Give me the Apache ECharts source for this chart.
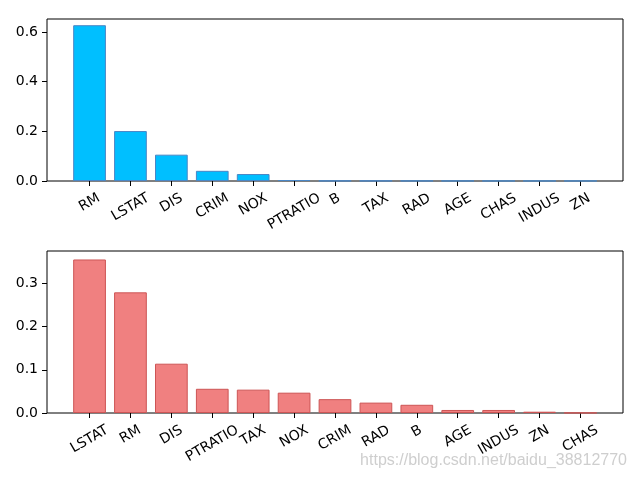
<!DOCTYPE html>
<html><head><meta charset="utf-8">
<script src="https://cdn.jsdelivr.net/npm/echarts@6/dist/echarts.min.js"></script>
<style>html,body{margin:0;padding:0;background:#fff}#c{width:640px;height:480px}</style>
</head><body><div id="c"></div>
<script>
const topCategories = ['RM','LSTAT','DIS','CRIM','NOX','PTRATIO','B','TAX','RAD','AGE','CHAS','INDUS','ZN'];
const topValues = [0.627,0.201,0.106,0.041,0.028,0.004,0.001,0.0008,0.0007,0.0006,0.0005,0.0005,0.0004];
const topTicks = [0,0.2,0.4,0.6];
const bottomCategories = ['LSTAT','RM','DIS','PTRATIO','TAX','NOX','CRIM','RAD','B','AGE','INDUS','ZN','CHAS'];
const bottomValues = [0.355,0.279,0.114,0.056,0.054,0.047,0.032,0.024,0.019,0.007,0.007,0.003,0.0005];
const bottomTicks = [0,0.1,0.2,0.3];
const watermark = 'https://blog.csdn.net/baidu_38812770';

const FONT = 'DejaVu Sans';
const FS = 14;
const frameLeft = 47, frameRight = 623;
const unit = (frameRight - frameLeft) / 14.08;
const dataLeft = frameLeft + 0.54 * unit;
const dataWidth = 13 * unit;
const dataRight = 640 - (dataLeft + dataWidth);
const yOffset = dataLeft - frameLeft;

const cv = document.createElement('canvas').getContext('2d');
cv.font = FS + 'px "' + FONT + '"';
function richFor(cats) {
  const rich = {};
  cats.forEach((c, i) => {
    const w = cv.measureText(c).width - 1.5;
    const d = w / 4;
    rich['l' + i] = {
      fontFamily: FONT, fontSize: FS, color: '#000', lineHeight: 16,
      padding: [1.732 * d, d, 0, 0]
    };
  });
  return rich;
}

const grids = [
  {left: frameLeft, right: 640 - frameRight, top: 19, height: 162},
  {left: dataLeft, right: dataRight, top: 19, height: 162},
  {left: frameLeft, right: 640 - frameRight, top: 251, height: 162},
  {left: dataLeft, right: dataRight, top: 251, height: 162}
];
grids[0].show = grids[2].show = true;
grids[0].borderColor = grids[2].borderColor = '#000';
grids[0].borderWidth = grids[2].borderWidth = 1;

function xData(gi, cats) {
  return {
    type: 'category', gridIndex: gi, data: cats,
    axisLine: {show: false},
    axisTick: {show: true, alignWithLabel: true, length: 5, lineStyle: {color: '#000'}},
    axisLabel: {
      rotate: 30, align: 'center', verticalAlign: 'middle', margin: 16.5, interval: 0,
      formatter: (v, i) => '{l' + i + '|' + v + '}',
      rich: richFor(cats)
    },
    splitLine: {show: false}
  };
}
function yData(gi, max, ticks) {
  return {
    type: 'value', gridIndex: gi, min: 0, max: max, offset: yOffset,
    axisLine: {show: false},
    axisTick: {show: true, length: 5, lineStyle: {color: '#000'}, customValues: ticks},
    axisLabel: {customValues: ticks, formatter: v => v.toFixed(1), margin: 9,
      fontFamily: FONT, fontSize: FS, color: '#000'},
    splitLine: {show: false}
  };
}

const option = {
  animation: false,
  title: {text: watermark, right: 8, bottom: 6,
    textStyle: {color: 'rgba(190,190,190,0.75)', fontSize: 16, fontWeight: 'normal', fontFamily: 'Liberation Sans'}},
  grid: grids,
  xAxis: [
    {type: 'value', gridIndex: 0, show: false},
    xData(1, topCategories),
    {type: 'value', gridIndex: 2, show: false},
    xData(3, bottomCategories)
  ],
  yAxis: [
    {type: 'value', gridIndex: 0, show: false},
    yData(1, 0.652, topTicks),
    {type: 'value', gridIndex: 2, show: false},
    yData(3, 0.3746, bottomTicks)
  ],
  series: [
    {type: 'bar', xAxisIndex: 1, yAxisIndex: 1, data: topValues, barWidth: 0.8 * unit,
      itemStyle: {color: '#00bfff', borderColor: '#4a86c5', borderWidth: 1}},
    {type: 'bar', xAxisIndex: 3, yAxisIndex: 3, data: bottomValues, barWidth: 0.8 * unit,
      itemStyle: {color: '#f08080', borderColor: '#cd5555', borderWidth: 1}}
  ]
};
echarts.init(document.getElementById('c')).setOption(option);
</script></body></html>
